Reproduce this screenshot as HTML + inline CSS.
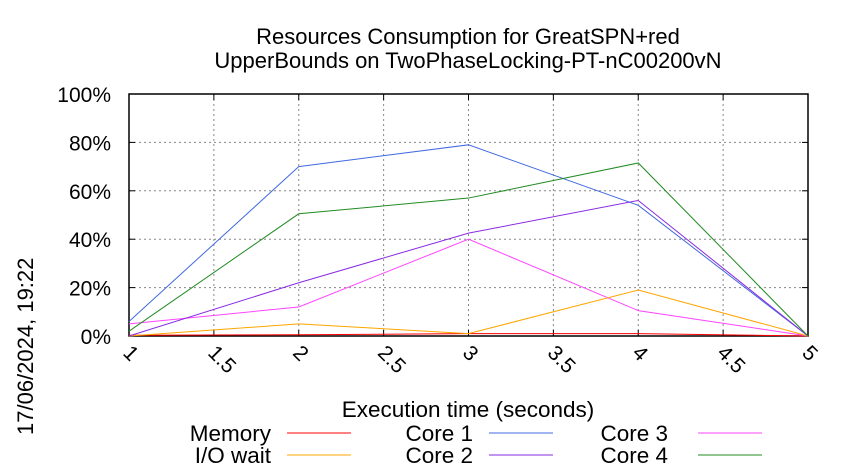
<!DOCTYPE html>
<html><head><meta charset="utf-8"><style>body{margin:0;background:#fff}svg{display:block;font-family:"Liberation Sans",sans-serif}</style></head>
<body>
<svg id="chart" width="850" height="475" xmlns="http://www.w3.org/2000/svg">
<text x="468" y="44" font-size="22" text-anchor="middle">Resources Consumption for GreatSPN+red</text>
<text x="468" y="68" font-size="22" text-anchor="middle">UpperBounds on TwoPhaseLocking-PT-nC00200vN</text>
<g id="grid"></g><g id="axes"></g><g id="series"></g><g id="legend"></g>
<text x="468" y="417" font-size="22.5" text-anchor="middle">Execution time (seconds)</text>
<text transform="translate(33,435) rotate(-90)" font-size="22">17/06/2024, 19:22</text>
</svg>
<script>
const xValues=[1,2,3,4,5];
const xTicks=[1,1.5,2,2.5,3,3.5,4,4.5,5];
const yTicks=[0,20,40,60,80,100];
const seriesNames=["Memory","Core 1","Core 3","I/O wait","Core 2","Core 4"];
const seriesColors=["#ff0000","#4169e1","#ff44ff","#ffa500","#8a2be2","#228b22"];
const memory=[0.3,0.5,1,1,0];
const core1=[6,70,79,54,0];
const core3=[5,12,40,10.5,0];
const ioWait=[0,5,1,19,0];
const core2=[0,22,42.5,56,0];
const core4=[2,50.5,57,71.5,0];
const seriesData=[memory,core1,core3,ioWait,core2,core4];
const NS="http://www.w3.org/2000/svg";
const L=129,R=808,T=94,B=336;
const sx=v=>L+(v-1)/4*(R-L), sy=v=>B-v/100*(B-T);
function mk(t,a,p){const e=document.createElementNS(NS,t);for(const k in a)e.setAttribute(k,a[k]);p.appendChild(e);return e;}
const grid=document.getElementById('grid'),axes=document.getElementById('axes'),ser=document.getElementById('series'),leg=document.getElementById('legend');
yTicks.forEach(v=>{const y=sy(v);
 const g=mk('line',{x1:L,x2:R,y1:y,y2:y,stroke:'#888','stroke-dasharray':'2,3','stroke-width':1},grid);
 
 
 const t=mk('text',{x:L-18,y:y+8,'font-size':21,'text-anchor':'end'},axes);t.textContent=v+'%';
 
 
 mk('line',{x1:L,x2:L+6,y1:y,y2:y,stroke:'#000'},axes);mk('line',{x1:R,x2:R-6,y1:y,y2:y,stroke:'#000'},axes);});
xTicks.forEach(v=>{const x=sx(v);
 const g=mk('line',{x1:x,x2:x,y1:T,y2:B,stroke:'#888','stroke-dasharray':'2,3','stroke-width':1},grid);
 
 
 mk('line',{x1:x,x2:x,y1:B,y2:B-6,stroke:'#000'},axes);mk('line',{x1:x,x2:x,y1:T,y2:T+6,stroke:'#000'},axes);
 const t=mk('text',{transform:`translate(${x-7},${B+18}) rotate(45)`,'font-size':21},axes);t.textContent=String(v);
 
 });
const fr=mk('rect',{x:L,y:T,width:R-L,height:B-T,fill:'none',stroke:'#000','stroke-width':1.5},axes);


seriesData.forEach((d,i)=>{
 const p=mk('polyline',{points:d.map((v,j)=>sx(xValues[j])+','+sy(v)).join(' '),fill:'none',stroke:seriesColors[i],'stroke-width':1},ser);
 
 
 const col=i%3,row=Math.floor(i/3);
 const tx=[271,473,668][col],lx=[287,489,698][col],y=[433,455][row];
 const t=mk('text',{x:tx,y:y+8,'font-size':22.5,'text-anchor':'end'},leg);t.textContent=seriesNames[i];
 
 
 const l=mk('line',{x1:lx,x2:lx+64,y1:y,y2:y,stroke:seriesColors[i],'stroke-width':1},leg);
 
 
});
</script>
</body></html>
